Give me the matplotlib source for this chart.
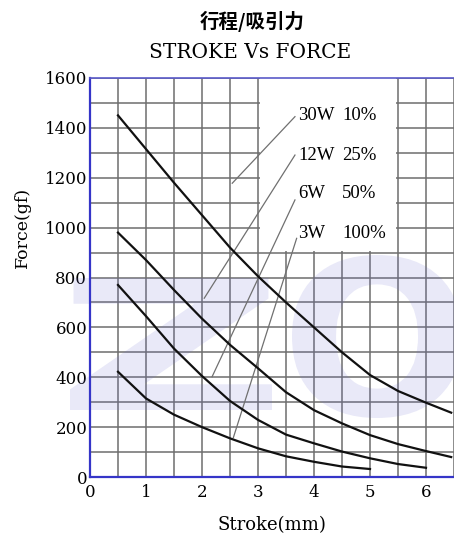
'''
Script used to redraw stroke vs force curves of solenoid
'''
import matplotlib
matplotlib.use('Agg')
import matplotlib.pyplot as plt

from matplotlib.textpath   import TextPath
from matplotlib.patches    import PathPatch, Rectangle
from matplotlib.transforms import Affine2D
from matplotlib.font_manager import FontProperties

# --------------------------------
stroke     = [0.5, 1.0, 1.5, 2.0, 2.5, 3.0, 3.5, 4.0, 4.5, 5.0, 5.5, 6.0, 6.45]

force_30w  = [1450, 1315, 1180, 1050, 920, 805, 700, 600, 500, 409, 345, 298, 258]
force_12w  = [ 980,  870,  750,  635, 530, 436, 340, 268, 215, 168, 132, 104,  80]
force_6w   = [ 770,  645,  515,  405, 305, 229, 170, 135, 102,  75,  52,  37]
force_3w   = [ 422,  315,  250,  200, 155, 115,  83,  61,  42,  32]

labels_pw  = ['30W', '12W', '6W', '3W']
labels_dc  = ['10%', '25%', '50%', '100%']
label_y    = [1451, 1291, 1137, 977]

lead_x0    = [3.66, 3.66, 3.66, 3.69]
lead_y0    = [1445, 1291, 1111, 957]
lead_x1    = [2.54, 2.04, 2.18, 2.56]
lead_y1    = [1178, 717, 402, 158]

x_ticks    = [0, 1, 2, 3, 4, 5, 6]
y_ticks    = [0, 200, 400, 600, 800, 1000, 1200, 1400, 1600]

W, H = 454, 534
# --------------------------------
def _watermark(fig, ax, char : str, box : tuple) -> None:
    x0, x1, ytop, ybot = box
    prop = FontProperties(family='DejaVu Sans', weight='bold')
    path = TextPath((0, 0), char, size=1, prop=prop)
    ext  = path.get_extents()
    sx   = (x1 - x0) / W / ext.width
    sy   = (ybot - ytop) / H / ext.height
    trf  = Affine2D().translate(-ext.x0, -ext.y0).scale(sx, sy).translate(x0 / W, 1 - ybot / H)
    ptc  = PathPatch(path, transform=trf + fig.transFigure, facecolor='#6c6cd0', alpha=0.15, lw=0, zorder=1.5)
    ptc.set_clip_on(False)
    ax.add_patch(ptc)
# --------------------------------
def main():
    '''
    Start here
    '''
    fig = plt.figure(figsize=(W / 100, H / 100), dpi=100)
    ax  = fig.add_axes([90 / W, (H - 477) / H, (W - 90) / W, (477 - 78) / H])

    ax.set_xlim(0, 6.45)
    ax.set_ylim(0, 1600)

    ax.set_xticks(x_ticks)
    ax.set_yticks(y_ticks)
    ax.set_xticks([v + 0.5 for v in x_ticks], minor=True)
    ax.set_yticks([v + 100 for v in y_ticks[:-1]], minor=True)
    ax.tick_params(which='both', length=0)
    ax.tick_params(axis='x', pad=5)
    ax.tick_params(axis='y', pad=2)
    for lab in ax.get_xticklabels() + ax.get_yticklabels():
        lab.set_family('DejaVu Serif')
        lab.set_fontsize(12)

    ax.set_axisbelow(True)
    ax.grid(which='both', color='#6e6e6e', lw=1.1, zorder=0.5)

    ax.spines['right'].set_visible(False)
    ax.spines['left'  ].set_color('#3535c8')
    ax.spines['bottom'].set_color('#3535c8')
    ax.spines['top'   ].set_color('#5a5ac8')
    ax.spines['left'  ].set_linewidth(1.6)
    ax.spines['bottom'].set_linewidth(1.6)
    ax.spines['top'   ].set_linewidth(1.2)

    # white box behind the legend texts
    ax.add_patch(Rectangle((3.03, 905), 2.44, 695, facecolor='white', edgecolor='none', zorder=1))

    _watermark(fig, ax, 'Z', (70, 272, 278, 410))
    _watermark(fig, ax, 'O', (292, 462, 255, 418))

    for x0, y0, x1, y1 in zip(lead_x0, lead_y0, lead_x1, lead_y1):
        ax.plot([x0, x1], [y0, y1], color='#707070', lw=0.9, zorder=2)

    for force in [force_30w, force_12w, force_6w, force_3w]:
        ax.plot(stroke[:len(force)], force, color='#111111', lw=1.6, zorder=3, clip_on=False)

    for pw, dc, yv in zip(labels_pw, labels_dc, label_y):
        ax.text(3.72, yv, pw, ha='left', va='center', family='Liberation Serif', fontsize=13.5, zorder=4)
        ax.text(4.50, yv, dc, ha='left', va='center', family='Liberation Serif', fontsize=13.5, zorder=4)

    fig.text(252 / W, 1 - 21 / H, '行程/吸引力', ha='center', va='center',
             family=['Noto Sans CJK SC', 'DejaVu Sans'], fontsize=14, weight='bold')
    fig.text(250 / W, 1 - 53 / H, 'STROKE Vs FORCE', ha='center', va='center',
             family='DejaVu Serif', fontsize=14.5)
    fig.text(22 / W, 1 - 227 / H, 'Force(gf)', ha='center', va='center', rotation=90,
             family='DejaVu Serif', fontsize=12.5)
    fig.text(272 / W, 1 - 525 / H, 'Stroke(mm)', ha='center', va='center',
             family='DejaVu Serif', fontsize=13)

    fig.savefig('out.png', dpi=100)
    plt.close(fig)
# --------------------------------
if __name__ == '__main__':
    main()
